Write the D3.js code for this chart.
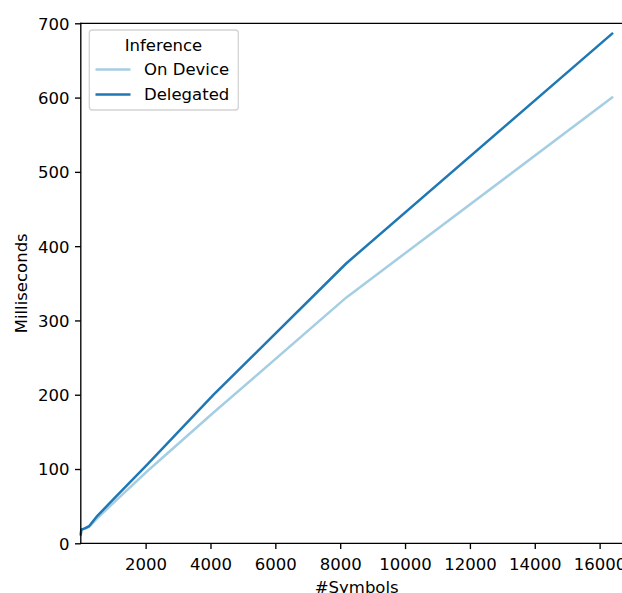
<!DOCTYPE html>
<html><head><meta charset="utf-8">
<script src="https://cdn.jsdelivr.net/npm/d3@7"></script>
<style>
html,body{margin:0;padding:0;background:#fff;overflow:hidden;}
text{font-family:"DejaVu Sans",sans-serif;}
</style></head>
<body>
<svg id="c" width="622" height="593"></svg>
<script>
const symbols   = [1, 16, 32, 64, 128, 256, 512, 1024, 2048, 4096, 8192, 16384];
const onDevice  = [13, 18, 18, 19, 20, 22, 34, 55, 97, 176, 331, 600];
const delegated = [12, 18, 19, 19, 20, 23, 37, 60, 106, 200, 377, 686];
const seriesNames = ["On Device", "Delegated"];
const seriesColors = ["#a6cee3", "#1f78b4"];
const xTicks = [2000, 4000, 6000, 8000, 10000, 12000, 14000, 16000];
const yTicks = [0, 100, 200, 300, 400, 500, 600, 700];

const svg = d3.select("#c");
const L = 80.8, T = 23.3, B = 543.3;
const pxPerUnit = (599.7 - 145.7) / 14000;
const xMin = 1, xMax = 17202;
const R = L + (xMax - xMin) * pxPerUnit;
const fs = 16.5;

const x = d3.scaleLinear().domain([xMin, xMax]).range([L, R]);
const y = d3.scaleLinear().domain([0, 700]).range([B, T]);

// axes
const xAxis = svg.append("g").attr("transform", `translate(0,${B})`)
  .call(d3.axisBottom(x).tickValues(xTicks).tickFormat(d3.format("d")).tickSize(5.8).tickPadding(5));
const yAxis = svg.append("g").attr("transform", `translate(${L},0)`)
  .call(d3.axisLeft(y).tickValues(yTicks).tickFormat(d3.format("d")).tickSize(5.8).tickPadding(5.5));
[xAxis, yAxis].forEach(a => {
  a.select(".domain").remove();
  a.selectAll(".tick line").attr("stroke", "#000").attr("stroke-width", 1.35);
  a.selectAll(".tick text").attr("fill", "#000").style("font-size", fs + "px").style("font-family", "DejaVu Sans");
});
xAxis.selectAll(".tick text").attr("dy", "0.95em");
yAxis.selectAll(".tick text").attr("dy", "0.36em");

// lines
const data = [onDevice, delegated];
const line = d3.line().x((d, i) => x(symbols[i])).y(d => y(d));
data.forEach((s, k) => {
  svg.append("path").datum(s).attr("d", line).attr("fill", "none")
    .attr("stroke", seriesColors[k]).attr("stroke-width", 2.5)
    .attr("stroke-linejoin", "round").attr("stroke-linecap", "square");
});

// spines
const sp = svg.append("g").attr("stroke", "#000").attr("stroke-width", 1.35).attr("fill", "none");
sp.append("line").attr("x1", L).attr("x2", L).attr("y1", T).attr("y2", B).attr("stroke-linecap", "square");
sp.append("line").attr("x1", L).attr("x2", R).attr("y1", B).attr("y2", B).attr("stroke-linecap", "square");
sp.append("line").attr("x1", L).attr("x2", R).attr("y1", T).attr("y2", T).attr("stroke-linecap", "square");
sp.append("line").attr("x1", R).attr("x2", R).attr("y1", T).attr("y2", B);

// labels
svg.append("text").attr("x", (L + R) / 2 - 3).attr("y", 592.5).attr("text-anchor", "middle")
  .style("font-size", fs + "px").text("#Symbols");
svg.append("text").attr("transform", `translate(27,${(T + B) / 2}) rotate(-90)`)
  .attr("text-anchor", "middle").style("font-size", fs + "px").text("Milliseconds");

// legend
const lg = svg.append("g");
lg.append("rect").attr("x", 89.3).attr("y", 30).attr("width", 149).attr("height", 80)
  .attr("rx", 3).attr("fill", "#fff").attr("fill-opacity", 0.8)
  .attr("stroke", "#d3d3d3").attr("stroke-width", 1.3);
lg.append("text").attr("x", 163.5).attr("y", 51).attr("text-anchor", "middle")
  .style("font-size", fs + "px").text("Inference");
seriesNames.forEach((n, i) => {
  const yy = 69.5 + i * 25;
  lg.append("line").attr("x1", 95.5).attr("x2", 130.5).attr("y1", yy).attr("y2", yy)
    .attr("stroke", seriesColors[i]).attr("stroke-width", 2.5);
  lg.append("text").attr("x", 144).attr("y", yy + 5.6).style("font-size", fs + "px").text(n);
});
</script>
</body></html>
